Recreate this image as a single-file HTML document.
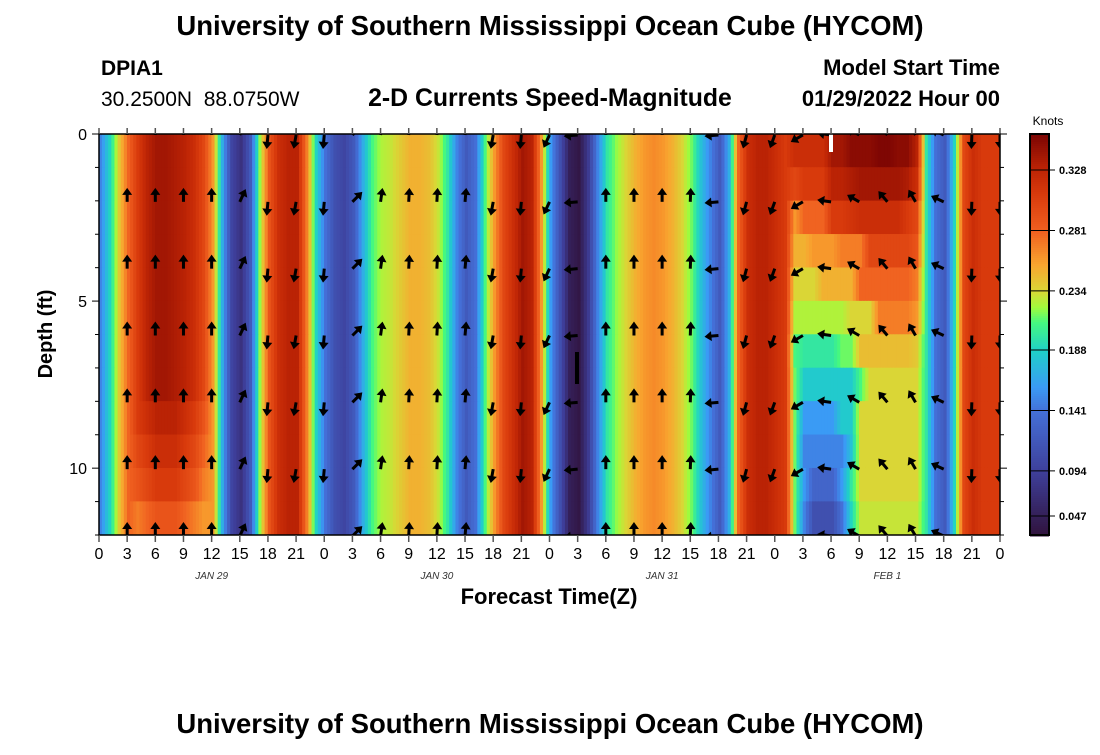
<!DOCTYPE html>
<html><head><meta charset="utf-8"><style>
body{margin:0;background:#fff;width:1100px;height:750px;overflow:hidden;font-family:"Liberation Sans",sans-serif}
svg text{font-family:"Liberation Sans",sans-serif}
</style></head><body>
<svg id="chart" width="1100" height="750" xmlns="http://www.w3.org/2000/svg">
<text x="550" y="35" font-size="27.5" font-weight="bold" text-anchor="middle">University of Southern Mississippi Ocean Cube (HYCOM)</text>
<text x="101" y="75" font-size="21" font-weight="bold">DPIA1</text>
<text x="101" y="106" font-size="21" xml:space="preserve" style="white-space:pre">30.2500N  88.0750W</text>
<text x="550" y="106" font-size="24.8" font-weight="bold" text-anchor="middle">2-D Currents Speed-Magnitude</text>
<text x="1000" y="75" font-size="22" font-weight="bold" text-anchor="end">Model Start Time</text>
<text x="1000" y="106" font-size="22" font-weight="bold" text-anchor="end">01/29/2022 Hour 00</text>
<defs><clipPath id="pc"><rect x="99" y="134" width="901" height="401"/></clipPath></defs>
<g id="cells" clip-path="url(#pc)"></g>
<g id="arrows" clip-path="url(#pc)"></g>
<rect x="575" y="352" width="4" height="32" fill="#000"/>
<rect x="829" y="134" width="4" height="18" fill="#fff"/>
<rect x="99" y="134" width="901" height="401" fill="none" stroke="#000" stroke-width="1.5"/>
<g id="axes"></g>
<text x="549" y="604" font-size="22" font-weight="bold" text-anchor="middle">Forecast Time(Z)</text>
<text transform="translate(52,334) rotate(-90)" font-size="20" font-weight="bold" text-anchor="middle">Depth (ft)</text>
<g id="cbar"></g>
<text x="550" y="733" font-size="27.5" font-weight="bold" text-anchor="middle">University of Southern Mississippi Ocean Cube (HYCOM)</text>
</svg>
<script>
// hourly surface speed (knots), hour 0..96
const surfaceSpeed=[0.15,0.19,0.24,0.28,0.31,0.33,0.34,0.34,0.335,0.33,0.32,0.30,0.26,0.17,0.10,0.08,0.12,0.22,0.29,0.32,0.33,0.33,0.27,0.19,0.14,0.11,0.10,0.12,0.17,0.21,0.225,0.23,0.24,0.25,0.25,0.245,0.23,0.20,0.15,0.12,0.14,0.21,0.26,0.30,0.32,0.34,0.33,0.26,0.16,0.11,0.06,0.05,0.09,0.15,0.20,0.22,0.235,0.25,0.26,0.265,0.26,0.25,0.235,0.215,0.18,0.15,0.12,0.17,0.28,0.32,0.33,0.33,0.32,0.31,0.31,0.32,0.32,0.33,0.34,0.345,0.35,0.35,0.35,0.355,0.355,0.35,0.34,0.32,0.20,0.14,0.12,0.19,0.30,0.32,0.31,0.31,0.31];
// per-depth-row overrides for hours 74..87 (rows 0..11 = 0-1ft .. 11-12ft)
const overrideStart=74;
const rowSpeeds=[
[0.32,0.32,0.32,0.32,0.34,0.34,0.35,0.35,0.35,0.355,0.355,0.35,0.35,0.33],
[0.30,0.31,0.31,0.31,0.33,0.33,0.335,0.34,0.34,0.34,0.34,0.34,0.335,0.32],
[0.26,0.28,0.28,0.28,0.31,0.31,0.315,0.32,0.32,0.32,0.32,0.32,0.31,0.30],
[0.25,0.25,0.26,0.26,0.26,0.27,0.27,0.27,0.30,0.30,0.30,0.30,0.30,0.29],
[0.235,0.235,0.235,0.25,0.25,0.25,0.25,0.28,0.28,0.28,0.28,0.28,0.28,0.27],
[0.225,0.225,0.225,0.225,0.225,0.225,0.235,0.235,0.235,0.27,0.27,0.27,0.27,0.26],
[0.21,0.20,0.20,0.20,0.20,0.215,0.215,0.245,0.245,0.245,0.245,0.245,0.245,0.24],
[0.215,0.185,0.185,0.185,0.185,0.185,0.185,0.21,0.235,0.235,0.235,0.235,0.235,0.235],
[0.215,0.16,0.16,0.16,0.16,0.185,0.185,0.235,0.235,0.235,0.235,0.235,0.235,0.235],
[0.215,0.15,0.15,0.15,0.15,0.15,0.18,0.235,0.235,0.235,0.235,0.235,0.235,0.235],
[0.215,0.16,0.13,0.13,0.13,0.16,0.20,0.235,0.235,0.235,0.235,0.235,0.235,0.235],
[0.215,0.15,0.11,0.11,0.11,0.14,0.19,0.23,0.23,0.23,0.23,0.23,0.23,0.23]];
// deep rows 8..11 for hours 4..11 (lower speeds near bottom)
const leftStart=4;
const leftDeep=[[0.31,0.32,0.33,0.33,0.33,0.32,0.31,0.29],[0.30,0.31,0.32,0.32,0.32,0.31,0.30,0.28],[0.29,0.30,0.31,0.31,0.31,0.30,0.29,0.27],[0.27,0.28,0.29,0.29,0.29,0.28,0.27,0.26]];
// arrow directions (compass deg, 0=north) at hours 3,6,...,96
const arrowHours=[3,6,9,12,15,18,21,24,27,30,33,36,39,42,45,48,51,54,57,60,63,66,69,72,75,78,81,84,87,90,93,96];
const arrowDirs=[0,0,0,0,25,185,190,185,45,8,3,3,5,190,185,205,265,0,0,0,2,265,195,200,240,278,300,320,330,295,182,180];
const arrowDepths=[0,2,4,6,8,10,12];
const tickLabels=[0,3,6,9,12,15,18,21,0,3,6,9,12,15,18,21,0,3,6,9,12,15,18,21,0,3,6,9,12,15,18,21,0];
const dateLabels=["JAN 29","JAN 30","JAN 31","FEB 1"];
const dateHours=[12,36,60,84];
const cbarTicks=[0.328,0.281,0.234,0.188,0.141,0.094,0.047];

const NS="http://www.w3.org/2000/svg";
const X0=99,X1=1000,Y0=134,Y1=535;
const xs=h=>X0+(X1-X0)*h/96;
const ys=d=>Y0+(Y1-Y0)*d/12;
const VMIN=0.044,VMAX=0.357;
const stops=[[0.044,[48,18,59]],[0.094,[62,63,154]],[0.141,[68,112,216]],[0.16,[58,155,245]],[0.188,[31,208,200]],[0.21,[69,248,128]],[0.222,[162,251,60]],[0.234,[216,216,54]],[0.255,[249,165,47]],[0.281,[240,96,32]],[0.31,[216,58,12]],[0.328,[191,37,5]],[0.357,[122,4,3]]];
function col(v){v=Math.max(VMIN,Math.min(VMAX,v));for(let i=1;i<stops.length;i++){if(v<=stops[i][0]){const a=stops[i-1],b=stops[i],t=(v-a[0])/(b[0]-a[0]);const c=a[1].map((q,k)=>Math.round(q+(b[1][k]-q)*t));return `rgb(${c})`;}}return 'rgb(122,4,3)';}
function speedAt(r,h){
 if(h>=overrideStart&&h<overrideStart+rowSpeeds[r].length)return rowSpeeds[r][h-overrideStart];
 if(r>=8&&h>=leftStart&&h<leftStart+leftDeep[0].length)return leftDeep[r-8][h-leftStart];
 return surfaceSpeed[h];}
function mk(tag,attrs,parent){const e=document.createElementNS(NS,tag);for(const k in attrs)e.setAttribute(k,attrs[k]);parent.appendChild(e);return e;}
const cells=document.getElementById('cells');
for(let r=0;r<12;r++){for(let h=0;h<96;h++){
 const sub=3;
 for(let s=0;s<sub;s++){
  const t=s/sub;const v=speedAt(r,h)*(1-t)+speedAt(r,h+1)*t;
  const e=mk('rect',{x:xs(h+t)-0.2,y:ys(r)-0.2,width:(X1-X0)/96/sub+0.6,height:(Y1-Y0)/12+0.6,fill:col(v)},cells);
  
  
 }}}
const ag=document.getElementById('arrows');
arrowHours.forEach((h,i)=>{arrowDepths.forEach(d=>{
 const a=arrowDirs[i]*Math.PI/180,L=14;
 const x=xs(h),y=ys(d)+1;const dx=Math.sin(a),dy=-Math.cos(a);
 const tx=x+dx*L,ty=y+dy*L;const px=-dy,py=dx;
 const g=mk('g',{},ag);
 
 
 mk('line',{x1:x,y1:y,x2:tx-dx*5,y2:ty-dy*5,stroke:'#000','stroke-width':3},g);
 mk('polygon',{points:`${tx},${ty} ${tx-dx*7+px*5},${ty-dy*7+py*5} ${tx-dx*7-px*5},${ty-dy*7-py*5}`,fill:'#000'},g);
});});
const ax=document.getElementById('axes');
for(let i=0;i<=32;i++){const x=xs(i*3);
 mk('line',{x1:x,y1:Y0-6,x2:x,y2:Y0,stroke:'#555','stroke-width':1.5},ax);
 mk('line',{x1:x,y1:Y1,x2:x,y2:Y1+7,stroke:'#555','stroke-width':1.5},ax);
 const t=mk('text',{x:x,y:Y1+24,'font-size':16,'text-anchor':'middle'},ax);t.textContent=tickLabels[i];
 
 }
dateLabels.forEach((s,i)=>{const t=mk('text',{x:xs(dateHours[i]),y:579,'font-size':10,'font-style':'italic','text-anchor':'middle','font-family':'Liberation Mono, monospace',fill:'#333'},ax);t.textContent=s;
 
 });
for(let d=0;d<=12;d++){const y=ys(d),big=d%5==0;
 mk('line',{x1:X0-(big?7:4),y1:y,x2:X0,y2:y,stroke:'#000','stroke-width':1},ax);
 mk('line',{x1:X1,y1:y,x2:X1+(big?7:4),y2:y,stroke:'#000','stroke-width':1},ax);
 if(big){const t=mk('text',{x:X0-12,y:y+6,'font-size':16,'text-anchor':'end'},ax);t.textContent=d;
 
 }}
const cb=document.getElementById('cbar');
const CY0=134,CY1=535,cyv=v=>170+(0.328-v)*1286;
for(let y=CY0;y<CY1;y+=2){const v=0.328-(y-170)/1286;mk('rect',{x:1030,y:y,width:19,height:2.5,fill:col(v)},cb);}
mk('rect',{x:1030,y:CY0,width:19,height:CY1-CY0,fill:'none',stroke:'#000','stroke-width':2},cb);
cbarTicks.forEach((v,i)=>{const y=i==6?516:cyv(v);
 mk('line',{x1:1030,y1:y,x2:1055,y2:y,stroke:'#000','stroke-width':1},cb);
 const t=mk('text',{x:1059,y:y+4,'font-size':11,'font-weight':'bold'},cb);t.textContent=v.toFixed(3);
 
 });
const kt=mk('text',{x:1048,y:125,'font-size':12,'text-anchor':'middle'},cb);kt.textContent='Knots';


</script>
</body></html>
